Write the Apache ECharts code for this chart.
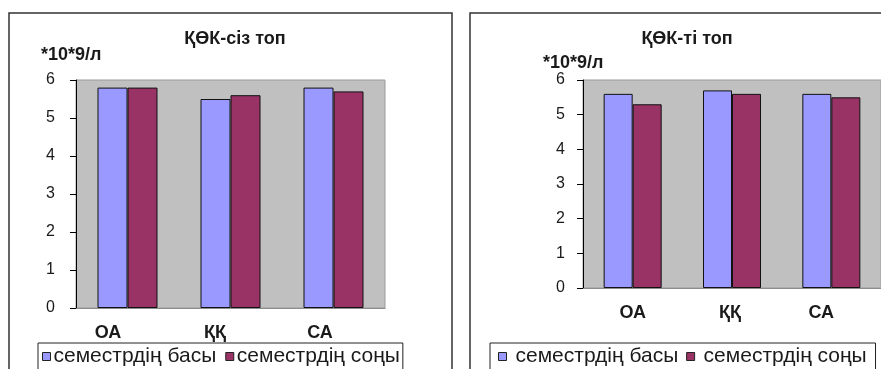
<!DOCTYPE html>
<html>
<head>
<meta charset="utf-8">
<script src="https://cdn.jsdelivr.net/npm/echarts@6/dist/echarts.min.js"></script>
<style>
  html, body { margin: 0; padding: 0; background: #fff; }
  #chart { width: 881px; height: 369px; }
</style>
</head>
<body>
<div id="chart"></div>
<script>
// Categories and values (×10^9/л)
const categories = ['ОА', 'ҚҚ', 'СА'];
const seriesNames = ['семестрдің басы', 'семестрдің соңы'];
const groupNoCHD_start = [5.8, 5.5, 5.8];
const groupNoCHD_end   = [5.8, 5.6, 5.7];
const groupCHD_start   = [5.6, 5.7, 5.6];
const groupCHD_end     = [5.3, 5.6, 5.5];
const chartTitles = ['ҚӨК-сіз топ', 'ҚӨК-ті топ'];
const unitLabel = '*10*9/л';
const yMin = 0, yMax = 6, yStep = 1;

const FONT = 'Liberation Sans, Arial, sans-serif';
const BLUE = '#9999FF';
const MAROON = '#993366';
const INK = '#1a1a1a';

const chart = echarts.init(document.getElementById('chart'), null, { renderer: 'canvas' });

function yAxisFor(gridIndex, margin) {
  return {
    type: 'value', gridIndex, min: yMin, max: yMax, interval: yStep,
    axisLine: { show: true, lineStyle: { color: '#000', width: 1 } },
    axisTick: { show: true, length: 6, lineStyle: { color: '#000' } },
    splitLine: { show: false },
    axisLabel: { color: INK, fontFamily: FONT, fontSize: 16, margin }
  };
}

// per-label nudges for the category text
const leftShift = [39, 31, 27];
const rightShift = [[0, 0], [0, 4], [0, 20]];

function xAxisFor(gridIndex, richFor) {
  const rich = {};
  categories.forEach((c, i) => { rich['c' + i] = richFor(i); });
  return {
    type: 'category', gridIndex, data: categories,
    axisLine: { show: true, lineStyle: { color: '#8c8c8c', width: 1 } },
    axisTick: { show: false },
    axisLabel: {
      margin: 16, interval: 0,
      formatter: (v, i) => '{c' + i + '|' + v + '}',
      rich
    }
  };
}
const labelBase = { fontFamily: FONT, fontSize: 18, fontWeight: 'bold', color: INK };
const headStyle = { fontFamily: FONT, fontSize: 18, fontWeight: 'bold', color: INK };

function bar(name, data, color, axisIndex, width) {
  return {
    type: 'bar', name, data,
    xAxisIndex: axisIndex, yAxisIndex: axisIndex,
    barWidth: width, barGap: '0%',
    itemStyle: { color, borderColor: '#111', borderWidth: 1 },
    emphasis: { disabled: true }
  };
}

const legendBase = {
  orient: 'horizontal', top: 343,
  icon: 'rect', itemWidth: 8, itemHeight: 8,
  borderColor: '#222', borderWidth: 1, backgroundColor: '#fff',
  itemStyle: { borderColor: '#222', borderWidth: 1 },
  selectedMode: false
};

chart.setOption({
  animation: false,
  backgroundColor: '#fff',
  title: [
    { text: chartTitles[0], left: 230, top: 25, textAlign: 'center', textStyle: headStyle },
    { text: chartTitles[1], left: 682, top: 25, textAlign: 'center', textStyle: headStyle },
    { text: unitLabel, left: 36, top: 41, textStyle: headStyle },
    { text: unitLabel, left: 538, top: 49, textStyle: headStyle }
  ],
  legend: [
    Object.assign({}, legendBase, {
      data: [seriesNames[0], seriesNames[1]],
      left: 38, itemGap: 9, width: 420,
      padding: [3, 3, 12, 4],
      textStyle: { fontFamily: FONT, fontSize: 21, color: INK, padding: [0, 0, 0, -2] }
    }),
    Object.assign({}, legendBase, {
      data: [seriesNames[0] + ' ', seriesNames[1] + ' '],
      left: 490, itemGap: 2, width: 420,
      padding: [3, 3, 12, 8],
      textStyle: { fontFamily: FONT, fontSize: 21, color: INK, padding: [0, 0, 0, 4] }
    })
  ],
  grid: [
    { left: 76, top: 80, width: 309, height: 228, show: true,
      backgroundColor: '#C0C0C0', borderColor: '#9a9a9a', borderWidth: 1 },
    { left: 583, top: 80, width: 300, height: 208, show: true,
      backgroundColor: '#C0C0C0', borderColor: '#9a9a9a', borderWidth: 1 }
  ],
  xAxis: [
    xAxisFor(0, i => Object.assign({ padding: [0, leftShift[i], 0, 0] }, labelBase)),
    xAxisFor(1, i => Object.assign({ padding: [0, rightShift[i][1], 0, rightShift[i][0]] }, labelBase))
  ],
  yAxis: [yAxisFor(0, 21), yAxisFor(1, 18)],
  series: [
    bar(seriesNames[0], groupNoCHD_start, BLUE, 0, 30),
    bar(seriesNames[1], groupNoCHD_end, MAROON, 0, 30),
    bar(seriesNames[0] + ' ', groupCHD_start, BLUE, 1, 29),
    bar(seriesNames[1] + ' ', groupCHD_end, MAROON, 1, 29)
  ],
  graphic: [
    // chart frames
    { type: 'rect', silent: true, z: -1,
      shape: { x: 9, y: 13, width: 443, height: 400 },
      style: { fill: null, stroke: '#333', lineWidth: 1.5 } },
    { type: 'rect', silent: true, z: -1,
      shape: { x: 470, y: 13, width: 430, height: 400 },
      style: { fill: null, stroke: '#333', lineWidth: 1.5 } }
  ]
});
</script>
</body>
</html>
